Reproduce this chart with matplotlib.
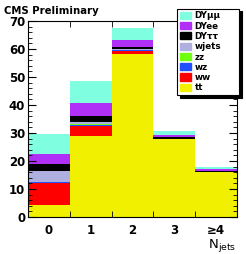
import matplotlib.pyplot as plt
import matplotlib.patches as mpatches
from matplotlib.ticker import MultipleLocator
import numpy as np

# bins and stacked contributions (bottom to top)
bins = [0, 1, 2, 3, 4]
bin_labels = ["0", "1", "2", "3", "≥4"]
tt = [4.4, 28.9, 58.2, 27.9, 16.2]
ww = [7.9, 3.6, 1.1, 0.0, 0.0]
wz = [0.1, 0.5, 0.2, 0.0, 0.0]
zz = [0.1, 0.2, 0.2, 0.0, 0.0]
wjets = [3.9, 0.7, 0.2, 0.0, 0.0]
dytautau = [2.6, 2.3, 0.9, 0.6, 0.1]
dyee = [3.6, 4.6, 2.4, 0.7, 0.7]
dymumu = [7.1, 7.8, 4.3, 1.4, 0.9]

names = ["tt", "ww", "wz", "zz", "wjets", "DYττ", "DYee", "DYμμ"]
series = [tt, ww, wz, zz, wjets, dytautau, dyee, dymumu]
colors = ["#f0f000", "#ff0000", "#2050ff", "#70ff10", "#b0b0e0",
          "#000000", "#b030f8", "#80ffe0"]

fig = plt.figure(figsize=(2.46, 2.54), dpi=100)
ax = fig.add_axes([0.114, 0.146, 0.849, 0.771])

bottom = np.zeros(len(bins))
for vals, c in zip(series, colors):
    ax.bar(bins, vals, width=1.0, bottom=bottom, color=c, linewidth=0)
    bottom += np.array(vals)

ax.set_xlim(-0.5, 4.5)
ax.set_ylim(0, 70)
ax.set_xticks(bins)
ax.set_xticklabels(bin_labels, fontsize=8.5, fontweight="bold")
ax.set_xticks([0.5, 1.5, 2.5, 3.5], minor=True)
ax.tick_params(axis="x", which="major", length=0, pad=5)
ax.tick_params(axis="x", which="minor", length=4, direction="in", top=True)
ax.yaxis.set_major_locator(MultipleLocator(10))
ax.yaxis.set_minor_locator(MultipleLocator(2))
ax.tick_params(axis="y", which="major", length=6, direction="in", right=True,
               labelsize=8.5, pad=2)
ax.tick_params(axis="y", which="minor", length=3, direction="in", right=True)
for lab in ax.get_yticklabels():
    lab.set_fontweight("bold")

fig.text(0.015, 0.978, "CMS Preliminary", fontsize=7.3, fontweight="bold",
         va="top", ha="left")
fig.text(0.962, 0.0, r"$\mathregular{N_{jets}}$", fontsize=9.5,
         ha="right", va="bottom")

handles = [mpatches.Patch(color=c, label=n)
           for n, c in zip(names[::-1], colors[::-1])]
leg = fig.legend(handles=handles, loc="upper left", mode="expand",
                 bbox_to_anchor=(0.72, 0.966, 0.252, 0), fontsize=6.3,
                 frameon=True, fancybox=False,
                 shadow={"color": "black", "alpha": 1},
                 handlelength=1.3, handleheight=0.9, labelspacing=0.15,
                 borderpad=0.3, handletextpad=0.4, borderaxespad=0)
leg.get_frame().set_edgecolor("black")
leg.get_frame().set_linewidth(0.8)
for t in leg.get_texts():
    t.set_fontweight("bold")

fig.savefig("out.png", dpi=100)
